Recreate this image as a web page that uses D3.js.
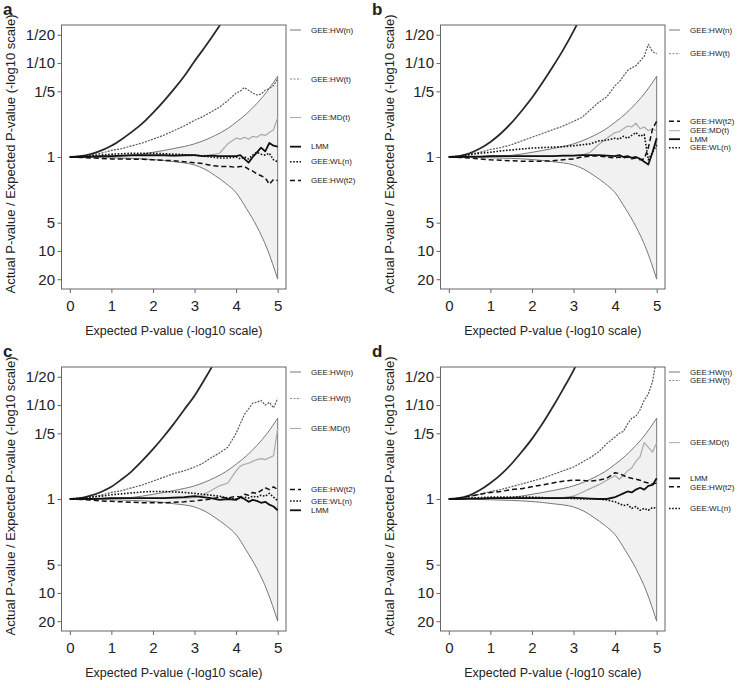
<!DOCTYPE html>
<html><head><meta charset="utf-8">
<script src="https://cdn.jsdelivr.net/npm/d3@7"></script>
<style>
body{margin:0;background:#fff}
svg{display:block}
text{font-family:"Liberation Sans",Arial,Helvetica,sans-serif;fill:#222}
</style>
</head><body>
<svg id="chart" width="741" height="688"></svg>
<script>
// ---- data: x = expected P-value (-log10), values = log10(actual / expected) ----
const xGrid = [0,0.25,0.5,0.75,1,1.25,1.5,1.75,2,2.25,2.5,2.75,3,3.2,3.4,3.6,3.8,4,4.1,4.2,4.3,4.4,4.5,4.6,4.7,4.8,4.9,5];
const xHWn  = [0,0.25,0.5,0.75,1,1.25,1.5,1.75,2,2.25,2.5,2.75,3,3.25,3.5,3.75];

const envX     = [0,0.5,1,1.5,2,2.5,3,3.25,3.5,3.75,4,4.25,4.5,4.75,5];
const envUpper = [0,-0.003,-0.008,-0.017,-0.05,-0.09,-0.14,-0.18,-0.23,-0.29,-0.37,-0.46,-0.57,-0.7,-0.86];
const envLower = [0,0.003,0.008,0.015,0.027,0.05,0.085,0.13,0.2,0.28,0.38,0.55,0.74,0.98,1.3];

const yTickValues = [1/20,1/10,1/5,1,5,10,20];
const yTickLabels = ["1/20","1/10","1/5","1","5","10","20"];
const xTickValues = [0,1,2,3,4,5];
const panelLetters = ["a","b","c","d"];
const seriesLabels = ["GEE:HW(n)","GEE:HW(t)","GEE:MD(t)","LMM","GEE:WL(n)","GEE:HW(t2)"];

// panel a
const hwnA  = [0,-0.008,-0.03,-0.068,-0.12,-0.19,-0.27,-0.36,-0.47,-0.59,-0.72,-0.86,-1.02,-1.17,-1.33,-1.5];
const hwtA  = [0,-0.01,-0.02,-0.04,-0.07,-0.09,-0.12,-0.15,-0.19,-0.23,-0.28,-0.33,-0.39,-0.43,-0.48,-0.53,-0.6,-0.68,-0.7,-0.74,-0.71,-0.68,-0.66,-0.67,-0.71,-0.73,-0.76,-0.83];
const mdtA  = [0,0,-0.005,-0.005,-0.01,-0.01,-0.01,-0.01,-0.01,-0.01,-0.01,-0.01,-0.015,-0.015,-0.02,-0.04,-0.14,-0.2,-0.19,-0.21,-0.19,-0.22,-0.21,-0.24,-0.23,-0.26,-0.29,-0.42];
const lmmA  = [0,0,-0.005,-0.01,-0.01,-0.015,-0.02,-0.02,-0.02,-0.02,-0.015,-0.02,-0.02,-0.01,-0.015,-0.01,-0.01,-0.01,-0.02,0.02,0.06,0,-0.05,-0.1,-0.06,-0.15,-0.12,-0.11];
const wlnA  = [0,-0.005,-0.01,-0.02,-0.03,-0.035,-0.04,-0.04,-0.04,-0.035,-0.03,-0.025,-0.02,-0.01,0,0.01,0.01,0,0.02,0,0.02,-0.02,-0.05,-0.03,-0.02,-0.04,0.03,0.05];
const hwt2A = [0,0.005,0.01,0.015,0.02,0.02,0.025,0.025,0.03,0.035,0.04,0.05,0.06,0.07,0.09,0.1,0.1,0.11,0.1,0.1,0.13,0.15,0.18,0.2,0.22,0.29,0.24,0.25];

// panel b
const hwnB  = [0,-0.01,-0.04,-0.09,-0.16,-0.25,-0.36,-0.49,-0.63,-0.79,-0.96,-1.14,-1.34,-1.56,-1.8,-2.05];
const hwtB  = [0,-0.01,-0.03,-0.05,-0.08,-0.1,-0.13,-0.17,-0.21,-0.25,-0.29,-0.33,-0.38,-0.42,-0.5,-0.58,-0.64,-0.76,-0.8,-0.86,-0.92,-0.95,-0.97,-1.02,-1.07,-1.2,-1.12,-1.1];
const mdtB  = [0,0,-0.005,-0.005,-0.01,-0.01,-0.01,-0.01,-0.01,-0.01,-0.01,-0.01,-0.015,-0.02,-0.05,-0.13,-0.2,-0.26,-0.27,-0.3,-0.33,-0.32,-0.36,-0.3,-0.32,-0.28,-0.3,-0.28];
const lmmB  = [0,0,-0.005,-0.005,-0.01,-0.01,-0.01,-0.01,-0.01,-0.01,-0.01,-0.015,-0.015,-0.02,-0.02,-0.02,-0.015,-0.01,-0.02,0,-0.01,0.01,0,0.02,0.05,0.08,-0.05,-0.2];
const wlnB  = [0,-0.01,-0.025,-0.04,-0.05,-0.065,-0.075,-0.085,-0.095,-0.1,-0.105,-0.11,-0.12,-0.13,-0.14,-0.17,-0.18,-0.2,-0.19,-0.22,-0.2,-0.23,-0.26,-0.22,-0.24,0.03,-0.05,-0.13];
const hwt2B = [0,0.005,0.01,0.02,0.03,0.035,0.04,0.045,0.045,0.045,0.04,0.03,0.02,0,-0.01,-0.01,0,0.01,0,0.01,0,0.02,0.01,0.03,0.02,-0.1,-0.3,-0.38];

// panel c
const hwnC  = [0,-0.009,-0.035,-0.075,-0.13,-0.21,-0.3,-0.41,-0.53,-0.66,-0.8,-0.95,-1.1,-1.28,-1.47,-1.67];
const hwtC  = [0,-0.01,-0.02,-0.04,-0.07,-0.09,-0.12,-0.15,-0.19,-0.23,-0.27,-0.3,-0.34,-0.38,-0.44,-0.49,-0.55,-0.7,-0.8,-0.9,-0.96,-1.02,-1.03,-1.05,-1,-1.03,-0.97,-1.07];
const mdtC  = [0,0,-0.005,-0.005,-0.01,-0.01,-0.01,-0.01,-0.01,-0.01,-0.01,-0.01,-0.015,-0.04,-0.09,-0.14,-0.17,-0.3,-0.35,-0.37,-0.38,-0.4,-0.42,-0.43,-0.42,-0.44,-0.46,-0.75];
const lmmC  = [0,0,0,-0.005,-0.01,-0.01,-0.01,-0.01,-0.01,-0.01,-0.015,-0.02,-0.03,-0.02,-0.01,0.01,0,0.01,-0.02,0,0.03,0.01,0.02,0.04,0.03,0.06,0.08,0.12];
const wlnC  = [0,-0.01,-0.02,-0.03,-0.045,-0.055,-0.065,-0.075,-0.08,-0.08,-0.075,-0.07,-0.06,-0.05,-0.04,-0.03,-0.01,0,-0.01,-0.02,-0.01,-0.03,-0.02,-0.04,-0.03,-0.06,-0.02,0.02];
const hwt2C = [0,0.005,0.01,0.02,0.025,0.03,0.035,0.04,0.04,0.04,0.035,0.03,0.02,0.01,0,-0.02,-0.01,-0.03,-0.02,-0.05,-0.04,-0.07,-0.06,-0.09,-0.12,-0.1,-0.13,-0.1];

// panel d
const hwnD  = [0,-0.01,-0.04,-0.095,-0.17,-0.26,-0.37,-0.5,-0.64,-0.8,-0.98,-1.17,-1.37,-1.6,-1.84,-2.1];
const hwtD  = [0,-0.01,-0.03,-0.05,-0.08,-0.1,-0.13,-0.16,-0.19,-0.22,-0.26,-0.3,-0.34,-0.39,-0.44,-0.5,-0.59,-0.66,-0.7,-0.72,-0.8,-0.86,-0.88,-0.95,-1.05,-1.12,-1.25,-1.5];
const mdtD  = [0,0,-0.005,-0.005,-0.01,-0.01,-0.01,-0.01,-0.01,-0.01,-0.01,-0.015,-0.03,-0.07,-0.11,-0.15,-0.2,-0.25,-0.21,-0.25,-0.3,-0.33,-0.4,-0.45,-0.6,-0.55,-0.5,-0.6];
const lmmD  = [0,0,-0.005,-0.005,-0.01,-0.01,-0.01,-0.01,-0.01,-0.01,-0.01,-0.01,-0.015,-0.01,-0.005,0,0,-0.02,-0.04,-0.06,-0.08,-0.07,-0.1,-0.12,-0.1,-0.14,-0.15,-0.22];
const wlnD  = [0,-0.005,-0.01,-0.015,-0.02,-0.02,-0.02,-0.02,-0.02,-0.015,-0.01,-0.01,-0.005,0,0,0,0.01,0.03,0.05,0.07,0.06,0.1,0.08,0.12,0.1,0.12,0.09,0.1];
const hwt2D = [0,-0.01,-0.03,-0.05,-0.07,-0.08,-0.1,-0.11,-0.13,-0.15,-0.17,-0.19,-0.2,-0.2,-0.19,-0.2,-0.22,-0.28,-0.27,-0.25,-0.23,-0.22,-0.21,-0.2,-0.18,-0.17,-0.16,-0.17];

// ---- styles ----
const styles = {
  "GEE:HW(n)":  {curve:{stroke:"#2a2a2a",width:1.8,dash:null}, legend:{stroke:"#777",width:1,dash:null}},
  "GEE:HW(t)":  {curve:{stroke:"#5a5a5a",width:1.2,dash:"2,1.2"}, legend:{stroke:"#888",width:1,dash:"2,1.5"}},
  "GEE:MD(t)":  {curve:{stroke:"#aaa",width:1.2,dash:null}, legend:{stroke:"#aaa",width:1,dash:null}},
  "LMM":        {curve:{stroke:"#111",width:1.8,dash:null}, legend:{stroke:"#111",width:1.8,dash:null}},
  "GEE:WL(n)":  {curve:{stroke:"#111",width:1.6,dash:"1.6,1.6"}, legend:{stroke:"#111",width:1.5,dash:"1.6,1.6"}},
  "GEE:HW(t2)": {curve:{stroke:"#111",width:1.5,dash:"5,3"}, legend:{stroke:"#111",width:1.5,dash:"5,3"}}
};

const panels = [
  {letter:panelLetters[0], dx:0,   dy:0,   series:[hwnA,hwtA,mdtA,lmmA,wlnA,hwt2A]},
  {letter:panelLetters[1], dx:379, dy:0,   series:[hwnB,hwtB,mdtB,lmmB,wlnB,hwt2B]},
  {letter:panelLetters[2], dx:0,   dy:342, series:[hwnC,hwtC,mdtC,lmmC,wlnC,hwt2C]},
  {letter:panelLetters[3], dx:379, dy:342, series:[hwnD,hwtD,mdtD,lmmD,wlnD,hwt2D]}
];

const svg = d3.select("#chart");
const L = 61.5, R = 286, T = 25, B = 289;
const x = d3.scaleLinear().domain([-0.2,5.2]).range([L,R]);
const y = d3.scaleLog().domain([Math.pow(10,-1.405), Math.pow(10,1.405)]).range([T,B]);
const yv = v => y(Math.pow(10,v));

svg.append("defs").append("clipPath").attr("id","plotclip")
  .append("rect").attr("x",L).attr("y",T).attr("width",R-L).attr("height",B-T);

panels.forEach((p,pi) => {
  const g = svg.append("g").attr("transform",`translate(${p.dx},${p.dy})`);

  // envelope
  const envPts = envX.map((xx,i)=>({x:xx,u:envUpper[i],l:envLower[i]}));
  g.append("path").datum(envPts)
    .attr("d", d3.area().curve(d3.curveMonotoneX).x(d=>x(d.x)).y0(d=>yv(d.u)).y1(d=>yv(d.l)))
    .attr("fill","#f1f1f1").attr("stroke","none");
  const gc = g.append("g").attr("clip-path","url(#plotclip)");
  gc.append("path").datum(envPts).attr("d", d3.line().curve(d3.curveMonotoneX).x(d=>x(d.x)).y(d=>yv(d.u)))
    .attr("fill","none").attr("stroke","#777").attr("stroke-width",1);
  gc.append("path").datum(envPts).attr("d", d3.line().curve(d3.curveMonotoneX).x(d=>x(d.x)).y(d=>yv(d.l)))
    .attr("fill","none").attr("stroke","#777").attr("stroke-width",1);
  gc.append("line").attr("x1",x(5)).attr("x2",x(5))
    .attr("y1",yv(envUpper[envUpper.length-1])).attr("y2",yv(envLower[envLower.length-1]))
    .attr("stroke","#777").attr("stroke-width",1);

  // series, drawn in back-to-front order
  const drawOrder = [2,1,0,5,4,3];
  drawOrder.forEach(si => {
    const vals = p.series[si];
    const xs = si===0 ? xHWn : xGrid;
    const pts = vals.map((v,i)=>[xs[i],v]);
    const st = styles[seriesLabels[si]].curve;
    const line = d3.line().x(d=>x(d[0])).y(d=>yv(d[1]));
    if (si===0) line.curve(d3.curveMonotoneX);
    gc.append("path").datum(pts)
      .attr("d", line)
      .attr("fill","none").attr("stroke",st.stroke).attr("stroke-width",st.width)
      .attr("stroke-dasharray",st.dash).attr("stroke-linejoin","round");
  });

  // box
  g.append("rect").attr("x",L).attr("y",T).attr("width",R-L).attr("height",B-T)
    .attr("fill","none").attr("stroke","#666").attr("stroke-width",1);

  // axes
  const ya = g.append("g").attr("transform",`translate(${L},0)`)
    .call(d3.axisLeft(y).tickValues(yTickValues).tickFormat((d,i)=>yTickLabels[i]).tickSize(4).tickPadding(2.5));
  const xa = g.append("g").attr("transform",`translate(0,${B})`)
    .call(d3.axisBottom(x).tickValues(xTickValues).tickFormat(d3.format("d")).tickSize(4).tickPadding(7));
  [ya,xa].forEach(a=>{
    a.select(".domain").remove();
    a.selectAll(".tick line").attr("stroke","#666");
    a.selectAll(".tick text").attr("font-size",15).attr("fill","#222")
      .attr("font-family","'Liberation Sans',Arial,sans-serif");
  });

  // axis titles
  g.append("text").attr("x",(L+R)/2).attr("y",335).attr("text-anchor","middle")
    .attr("font-size",12.5).text("Expected P-value (-log10 scale)");
  g.append("text").attr("transform",`translate(14.5,154) rotate(-90)`).attr("text-anchor","middle")
    .attr("font-size",13).text("Actual P-value / Expected P-value (-log10 scale)");

  // panel letter
  g.append("text").attr("x",p.dx===0?3:-7).attr("y",15).attr("font-size",17).attr("font-weight","bold")
    .attr("fill","#111").text(p.letter);

  // legend at the end values, spread to avoid overlap
  const items = seriesLabels.map((lab,si)=>{
    const vals = p.series[si];
    const xs = si===0 ? xHWn : xGrid;
    let endV = null;
    for (let i=0;i<vals.length;i++){ if (xs[i]<=5) endV = vals[i]; if (yv(vals[i])<T){ endV=-9; break;} }
    let ty = Math.max(T+5, Math.min(B-5, yv(endV)));
    return {lab, ty};
  }).sort((a,b)=>a.ty-b.ty);
  for (let i=1;i<items.length;i++){ if (items[i].ty < items[i-1].ty+8.5) items[i].ty = items[i-1].ty+8.5; }
  items.forEach(it=>{
    const st = styles[it.lab].legend;
    g.append("line").attr("x1",R+4).attr("x2",R+15).attr("y1",it.ty).attr("y2",it.ty)
      .attr("stroke",st.stroke).attr("stroke-width",st.width).attr("stroke-dasharray",st.dash);
    g.append("text").attr("x",R+25).attr("y",it.ty).attr("dy","0.35em")
      .attr("font-size",8).attr("fill","#333").text(it.lab);
  });
});
</script>
</body></html>
